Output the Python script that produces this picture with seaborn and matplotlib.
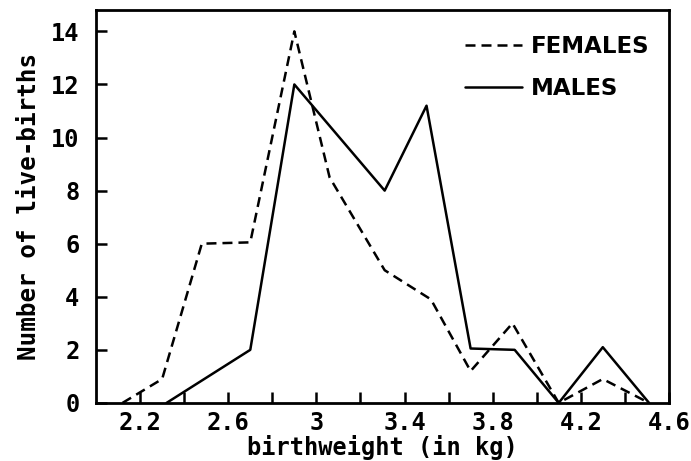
import matplotlib
matplotlib.use("Agg")
import matplotlib.pyplot as plt
import seaborn as sns
import pandas as pd
from matplotlib.ticker import FixedLocator, FuncFormatter
from matplotlib.lines import Line2D
from matplotlib.font_manager import FontProperties

# Data
female_x = [2.12, 2.30, 2.48, 2.70, 2.90, 3.06, 3.31, 3.52, 3.70, 3.89, 4.10, 4.30, 4.51]
female_y = [0.0, 0.9, 6.0, 6.05, 14.0, 8.5, 5.0, 3.9, 1.2, 3.0, 0.0, 0.9, 0.0]
male_x = [2.32, 2.70, 2.90, 3.31, 3.50, 3.70, 3.90, 4.10, 4.30, 4.51]
male_y = [0.0, 2.0, 12.0, 8.0, 11.2, 2.05, 2.0, 0.0, 2.1, 0.0]
series_names = ["FEMALES", "MALES"]
x_tick_labels = [2.2, 2.6, 3.0, 3.4, 3.8, 4.2, 4.6]
x_minor_ticks = [2.4, 2.8, 3.2, 3.6, 4.0, 4.4]
y_ticks = [0, 2, 4, 6, 8, 10, 12, 14]

df = pd.concat([
    pd.DataFrame({"x": female_x, "y": female_y, "sex": series_names[0]}),
    pd.DataFrame({"x": male_x, "y": male_y, "sex": series_names[1]}),
], ignore_index=True)

sns.set_theme(style="white")
plt.rcParams["font.family"] = ["DejaVu Sans Mono"]

fig = plt.figure(figsize=(6.91, 4.61), dpi=100)
ax = fig.add_axes([0.139, 0.126, 0.829, 0.852])

lw = 1.8
sns.lineplot(data=df, x="x", y="y", style="sex", sort=False,
             style_order=series_names, dashes={"FEMALES": (4, 2.4), "MALES": ""},
             color="black", linewidth=lw, ax=ax, legend=False, estimator=None)

ax.set_xlim(2.0, 4.6)
ax.set_ylim(0, 14.8)

ax.xaxis.set_major_locator(FixedLocator(x_tick_labels))
ax.xaxis.set_minor_locator(FixedLocator(x_minor_ticks))
ax.xaxis.set_major_formatter(FuncFormatter(lambda v, p: ("%g" % round(v, 1))))
ax.set_yticks(y_ticks)

ax.tick_params(axis="both", which="both", direction="in", length=8, width=1.8,
               color="black", bottom=True, left=True, top=False, right=False)
ax.tick_params(axis="x", which="major", pad=6, labelsize=17)
ax.tick_params(axis="y", which="major", pad=12, labelsize=17)
for lab in ax.get_xticklabels() + ax.get_yticklabels():
    lab.set_fontweight("bold")
    lab.set_color("black")

for s in ax.spines.values():
    s.set_linewidth(2.0)
    s.set_color("black")

ax.set_xlabel("birthweight (in kg)", fontsize=17, fontweight="bold", color="black", labelpad=0)
ax.set_ylabel("Number of live-births", fontsize=17.5, fontweight="bold", color="black", labelpad=7)

handles = [Line2D([], [], color="black", lw=lw, dashes=(4, 2.4)),
           Line2D([], [], color="black", lw=lw)]
legend_font = FontProperties(family="DejaVu Sans", weight="bold", size=16.5)
leg = ax.legend(handles, series_names, loc="upper right", frameon=False,
                handlelength=2.5, handletextpad=0.4, labelspacing=0.85,
                borderaxespad=0.3, bbox_to_anchor=(0.995, 0.978),
                prop=legend_font)
for t in leg.get_texts():
    t.set_color("black")

fig.savefig("out.png", dpi=100, facecolor="white")
